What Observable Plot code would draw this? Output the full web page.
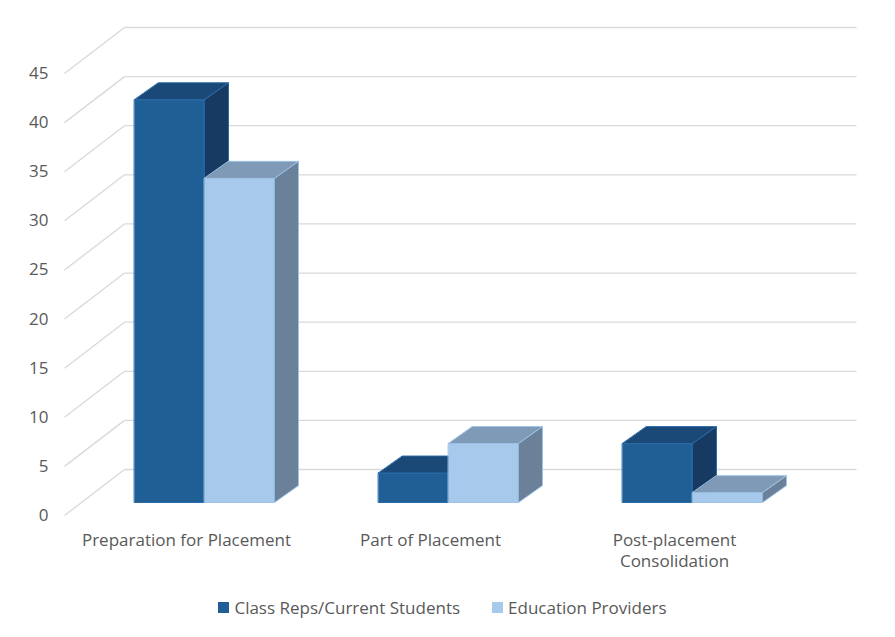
<!DOCTYPE html>
<html>
<head>
<meta charset="utf-8">
<script src="https://cdn.jsdelivr.net/npm/d3@7"></script>
<script src="https://cdn.jsdelivr.net/npm/@observablehq/plot@0.6"></script>
<style>
  html, body { margin: 0; padding: 0; background: #fff; }
  #chart svg { display: block; }
  .legend { height: 54px; display: flex; justify-content: center; align-items: center;
    font-family: "Open Sans", sans-serif; font-size: 17px; color: #595959; padding-right: 10px; box-sizing: border-box; width: 895px; }
  .legend .item { display: flex; align-items: center; margin: 0 16px; }
  .legend .sw { width: 11px; height: 11px; margin-right: 5px; }
</style>
</head>
<body>
<div id="chart"></div>
<div class="legend" id="legend"></div>
<script>
// ---- data ----
const categories = ["Preparation for Placement", "Part of Placement", "Post-placement\nConsolidation"];
const seriesNames = ["Class Reps/Current Students", "Education Providers"];
const classReps = [41, 3, 6];
const eduProviders = [33, 6, 1];
const yTicks = [0, 5, 10, 15, 20, 25, 30, 35, 40, 45];

// ---- styles ----
const palette = [
  {front: "#1F5F96", top: "#1A4877", side: "#163A61", stroke: "#2A6CA8"},
  {front: "#A7CAEC", top: "#7F9AB6", side: "#6B819A", stroke: "#9DC3E6"}
];
const gridColor = "#D9D9D9";
const textColor = "#595959";
const fs = 17;

// ---- layout ----
const W = 895, H = 580, mL = 64, mR = 99, mT = 73, mB = 65;
const yMax = d3.max(yTicks);
const kx = (W - mL - mR) / categories.length; // px per category slot
const kv = (H - mT - mB) / yMax;               // px per value unit
const px = d => d / kx, pv = d => d / kv;
const wallX = px(60), wallV = pv(46);          // 3D depth of the walls
const barFX = px(18), barFV = pv(13);          // bar front-face depth
const barDX = px(24), barDV = pv(17);          // bar depth
const barW = px(70);

const seriesValues = [classReps, eduProviders];

// polygons for each face of each bar
const faces = [[], []];
seriesValues.forEach((vals, s) => {
  vals.forEach((v, i) => {
    const x0 = i + 0.5 + barFX - barW + s * barW, x1 = x0 + barW;
    const b = barFV, t = barFV + v;
    const add = (face, pts) => pts.forEach(([x, y]) => faces[s].push({id: `${i}-${face}`, face, x, y}));
    add("front", [[x0, b], [x1, b], [x1, t], [x0, t]]);
    add("top", [[x0, t], [x1, t], [x1 + barDX, t + barDV], [x0 + barDX, t + barDV]]);
    add("side", [[x1, b], [x1 + barDX, b + barDV], [x1 + barDX, t + barDV], [x1, t]]);
  });
});

const barMarks = [];
[0, 1].forEach(s => {
  ["front", "top", "side"].forEach(face => {
    barMarks.push(Plot.line(faces[s].filter(d => d.face === face), {
      x: "x", y: "y", z: "id", curve: "linear-closed",
      fill: palette[s][face], stroke: palette[s].stroke, strokeWidth: 1, strokeLinejoin: "miter"
    }));
  });
});

const lineH = 21 / fs;
const chart = Plot.plot({
  width: W, height: H,
  marginLeft: mL, marginRight: mR, marginTop: mT, marginBottom: mB,
  x: {domain: [0, categories.length], axis: null},
  y: {domain: [0, yMax], axis: null},
  style: {fontFamily: "'Open Sans', sans-serif", fontSize: fs + "px", color: textColor, background: "#fff"},
  marks: [
    // back wall gridlines
    Plot.link(yTicks, {x1: wallX, x2: categories.length + wallX, y1: d => d + wallV, y2: d => d + wallV,
      stroke: gridColor, strokeWidth: 1.3}),
    // side wall diagonals
    Plot.link(yTicks, {x1: 0, x2: wallX, y1: d => d, y2: d => d + wallV, stroke: gridColor, strokeWidth: 1.3}),
    ...barMarks,
    Plot.axisY({ticks: yTicks, tickSize: 0, tickPadding: 16, fontSize: fs, fill: textColor, label: null}),
    Plot.text(categories, {x: (d, i) => i + 0.5, y: 0, dy: 16, lineAnchor: "top", lineHeight: lineH,
      fontSize: fs, fill: textColor})
  ]
});
document.getElementById("chart").appendChild(chart);

const legend = document.getElementById("legend");
seriesNames.forEach((name, s) => {
  const item = document.createElement("div");
  item.className = "item";
  item.innerHTML = `<span class="sw" style="background:${palette[s].front}"></span><span>${name}</span>`;
  legend.appendChild(item);
});
</script>
</body>
</html>
